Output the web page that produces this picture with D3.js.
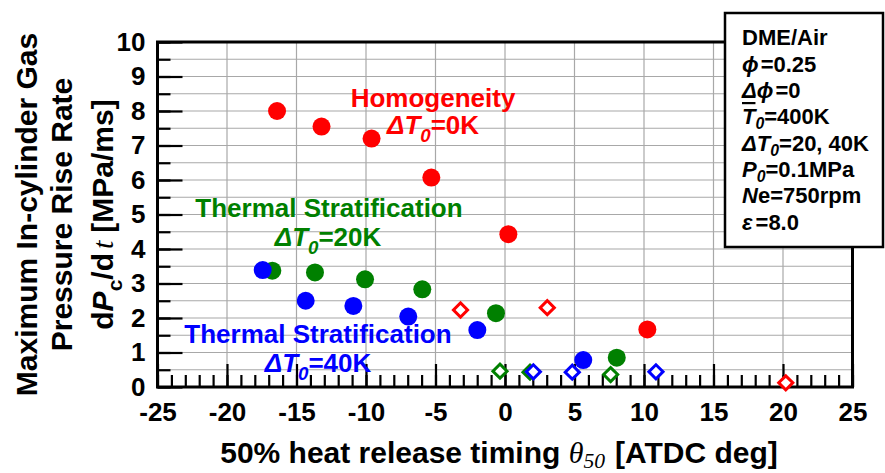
<!DOCTYPE html>
<html lang="en">
<head>
<meta charset="UTF-8">
<title>Maximum pressure rise rate vs 50% heat release timing</title>
<script src="https://d3js.org/d3.v7.min.js"></script>
<style>
  body { margin: 0; background: #fff; }
  svg text { font-family: "Liberation Sans", Arial, sans-serif; font-weight: bold; fill: #000; }
  .tick text { font-size: 26px; font-family: "Liberation Sans", Arial, sans-serif; font-weight: bold; }
  .grid line { stroke: #a8a8a8; stroke-width: 1.2; }
</style>
</head>
<body>
<svg width="885" height="473"></svg>
<script>
// axis ticks
const xTicks = [-25, -20, -15, -10, -5, 0, 5, 10, 15, 20, 25];
const yTicks = [0, 1, 2, 3, 4, 5, 6, 7, 8, 9, 10];

// Homogeneity, dT0 = 0K
const homoX = [-16.4, -13.2, -9.6, -5.3, 0.24, 10.24];
const homoY = [8.0, 7.55, 7.2, 6.07, 4.43, 1.67];
const homoOpenX = [-3.2, 3.04, 20.2];
const homoOpenY = [2.23, 2.30, 0.12];

// Thermal stratification, dT0 = 20K
const str20X = [-16.74, -13.67, -10.07, -5.95, -0.65, 8.04];
const str20Y = [3.37, 3.32, 3.12, 2.83, 2.14, 0.85];
const str20OpenX = [-0.36, 1.8, 7.6];
const str20OpenY = [0.46, 0.43, 0.36];

// Thermal stratification, dT0 = 40K
const str40X = [-17.43, -14.34, -10.91, -6.96, -1.99, 5.63];
const str40Y = [3.39, 2.50, 2.35, 2.04, 1.65, 0.78];
const str40OpenX = [2.04, 4.84, 10.86];
const str40OpenY = [0.44, 0.43, 0.44];

const svg = d3.select("svg");

const x = d3.scaleLinear().domain([-25, 25]).range([157.5, 852.5]);
const y = d3.scaleLinear().domain([0, 10]).range([387, 42]);

// grid
const grid = svg.append("g").attr("class", "grid");
grid.selectAll(".h").data(d3.range(0.5, 10, 0.5)).enter().append("line")
    .attr("x1", x(-25)).attr("x2", x(25))
    .attr("y1", d => y(d)).attr("y2", d => y(d));
grid.selectAll(".v").data(xTicks.slice(1, -1)).enter().append("line")
    .attr("y1", y(0)).attr("y2", y(10))
    .attr("x1", d => x(d)).attr("x2", d => x(d));

// inward ticks
function ticks(axis, vals, size) {
    const g = svg.append("g").call(axis.tickValues(vals).tickSize(-size).tickFormat(""));
    g.select(".domain").remove();
    g.selectAll(".tick line").attr("stroke", "#000").attr("stroke-width", 2.2);
    return g;
}
ticks(d3.axisBottom(x), d3.range(-25, 26, 1), 12).attr("transform", `translate(0,${y(0)})`);
ticks(d3.axisBottom(x), xTicks, 23).attr("transform", `translate(0,${y(0)})`);
ticks(d3.axisLeft(y), d3.range(0, 10.01, 0.5), 13).attr("transform", `translate(${x(-25)},0)`);
ticks(d3.axisLeft(y), yTicks, 25).attr("transform", `translate(${x(-25)},0)`);

// tick labels (plain hyphen for negatives, like the original)
const xl = svg.append("g").attr("transform", `translate(0,${y(0)})`)
    .call(d3.axisBottom(x).tickValues(xTicks).tickSize(0).tickPadding(16).tickFormat(d => String(d)));
xl.select(".domain").remove();
xl.selectAll("text").attr("fill", "#000");

const yl = svg.append("g").attr("transform", `translate(${x(-25)},0)`)
    .call(d3.axisLeft(y).tickValues(yTicks).tickSize(0).tickPadding(12).tickFormat(d => String(d)));
yl.select(".domain").remove();
yl.selectAll("text").attr("fill", "#000");

// frame
svg.append("rect")
    .attr("x", x(-25)).attr("y", y(10))
    .attr("width", x(25) - x(-25)).attr("height", y(0) - y(10))
    .attr("fill", "none").attr("stroke", "#000").attr("stroke-width", 3);

// markers
const diamond = d3.symbol().type(d3.symbolSquare).size(100);
function openDiamonds(xs, ys, color) {
    svg.append("g").selectAll("path").data(xs).enter().append("path")
        .attr("d", diamond)
        .attr("transform", (d, i) => `translate(${x(d)},${y(ys[i])}) rotate(45)`)
        .attr("fill", "#fff").attr("stroke", color).attr("stroke-width", 3);
}
function dots(xs, ys, color) {
    svg.append("g").selectAll("circle").data(xs).enter().append("circle")
        .attr("cx", d => x(d)).attr("cy", (d, i) => y(ys[i]))
        .attr("r", 9).attr("fill", color);
}
openDiamonds(homoOpenX, homoOpenY, "#ff0000");
openDiamonds(str20OpenX, str20OpenY, "#008000");
openDiamonds(str40OpenX, str40OpenY, "#0000ff");
dots(homoX, homoY, "#ff0000");
dots(str20X, str20Y, "#008000");
dots(str40X, str40Y, "#0000ff");

// rich text: parts {t, i: italic, sub: subscript, serif}
function rich(text, parts, subSize, subShift) {
    let shift = 0;
    const down = subShift == null ? subSize * 0.45 : subShift;
    parts.forEach(p => {
        const ts = text.append("tspan").text(p.t);
        if (p.i) ts.style("font-style", "italic");
        if (p.serif) ts.style("font-family", "'Liberation Serif', serif").style("font-weight", "normal");
        if (p.over) ts.style("text-decoration", "overline");
        if (p.dx) ts.attr("dx", p.dx);
        const target = p.sub ? down : 0;
        if (target !== shift) { ts.attr("dy", target - shift); shift = target; }
        if (p.sub) ts.style("font-size", subSize + "px");
    });
    return text;
}

function label(px, py, size, color, parts, anchor, subShift) {
    const t = svg.append("text").attr("x", px).attr("y", py)
        .attr("text-anchor", anchor || "middle")
        .style("font-size", size + "px").style("fill", color);
    return rich(t, parts, size * 0.72, subShift);
}

const dT0 = v => [{t: "\u0394", i: true}, {t: "T", i: true}, {t: "0", i: true, sub: true}, {t: "=" + v}];

label(433, 107, 26, "#ff0000", [{t: "Homogeneity"}]);
label(433, 134, 26, "#ff0000", dT0("0K"));
label(329, 217, 26, "#008000", [{t: "Thermal Stratification"}]);
label(328, 246, 26, "#008000", dT0("20K"));
label(318, 343, 26, "#0000ff", [{t: "Thermal Stratification"}]);
label(318, 372, 26, "#0000ff", dT0("40K"));

// condition box
svg.append("rect").attr("x", 725).attr("y", 13).attr("width", 158).attr("height", 234)
    .attr("fill", "#fff").attr("stroke", "#000").attr("stroke-width", 2.5);
const boxLines = [
    [{t: "DME/Air"}],
    [{t: "\u03d5", i: true}, {t: "=0.25", dx: 2}],
    [{t: "\u0394\u03d5", i: true}, {t: "=0", dx: 2}],
    [{t: "T", i: true, over: true}, {t: "0", i: true, sub: true}, {t: "=400K"}],
    dT0("20, 40K"),
    [{t: "P", i: true}, {t: "0", i: true, sub: true}, {t: "=0.1MPa"}],
    [{t: "N", i: true}, {t: "e=750rpm"}],
    [{t: "\u03b5", i: true}, {t: "=8.0", dx: 3}]
];
const boxBase = [45, 72, 98, 124, 151, 177, 203, 230];
boxLines.forEach((parts, i) => label(742, boxBase[i], 22, "#000", parts, "start", 5));

// axis titles
label(499, 463, 30, "#000", [
    {t: "50% heat release timing "},
    {t: "\u03b8", i: true, serif: true},
    {t: "50", i: true, serif: true, sub: true},
    {t: "[ATDC deg]", dx: 10}
], "middle", 5);

const yTitle = [
    [{t: "Maximum In-cylinder Gas"}],
    [{t: "Pressure Rise Rate"}],
    [{t: "d"}, {t: "P", i: true}, {t: "c", sub: true}, {t: "/d"}, {t: "t", i: true, serif: true, dx: 4}, {t: "[MPa/ms]", dx: 8}]
];
const yTitleBase = [37, 72, 113];
yTitle.forEach((parts, i) => {
    const t = svg.append("text")
        .attr("transform", `translate(${yTitleBase[i]},214.5) rotate(-90)`)
        .attr("text-anchor", "middle").style("font-size", "30px");
    rich(t, parts, 21);
});
</script>
</body>
</html>
